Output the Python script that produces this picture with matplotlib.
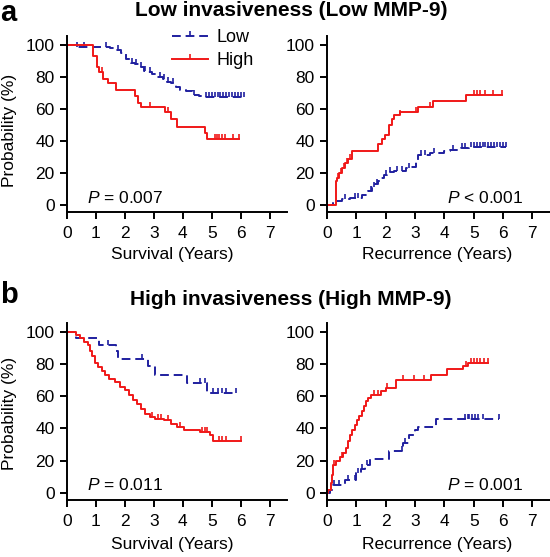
import numpy as np
import matplotlib
matplotlib.use("Agg")
import matplotlib.pyplot as plt
from matplotlib.lines import Line2D

FONT = ['Liberation Sans', 'DejaVu Sans']
FS = 12.5
plt.rcParams['font.family'] = FONT
plt.rcParams['mathtext.fontset'] = 'custom'
plt.rcParams['mathtext.rm'] = 'Liberation Sans'
plt.rcParams['mathtext.it'] = 'Liberation Sans:italic'

RED = '#f01818'
BLUE = '#1f1f9f'

# ---------------- data ----------------
# Panel a, survival
a_surv_low_t = [0.3, 1.5, 1.65, 1.85, 2.05, 2.2, 2.35, 2.5, 2.65, 2.8, 2.95, 3.1, 3.3, 3.45, 3.6, 3.75, 3.9, 4.1, 4.35, 4.55, 4.7]
a_surv_low_v = [99, 98, 97, 95, 91, 89, 88, 86, 84, 83, 82, 80, 79, 77, 76, 74, 72, 71, 69, 68, 67.5]
a_surv_low_c = [0.35, 0.6, 1.35, 1.75, 2.25, 2.4, 2.55, 2.7, 2.85, 3.2, 3.35, 3.5, 3.65, 4.4, 4.8, 4.9, 5.0, 5.1,
                5.2, 5.3, 5.4, 5.5, 5.6, 5.7, 5.8, 5.9, 6.0, 6.1]
a_surv_high_t = [0.9, 1.02, 1.1, 1.25, 1.4, 1.7, 2.35, 2.45, 2.55, 3.4, 3.6, 3.8, 4.75, 4.85]
a_surv_high_v = [93, 86, 83, 79, 76, 72, 68, 64, 61, 58, 54, 49, 45, 41]
a_surv_high_c = [1.2, 2.85, 3.5, 5.1, 5.17, 5.25, 5.35, 5.45, 5.75, 5.95]

# Panel a, recurrence
a_rec_low_t = [0.22, 0.5, 0.8, 1.2, 1.4, 1.55, 1.65, 1.75, 1.85, 1.95, 2.05, 2.3, 2.7, 2.85, 3.05, 3.1, 3.5, 4.0, 4.2, 4.55, 4.85]
a_rec_low_v = [2.5, 3.5, 4.5, 6, 9, 11, 13, 15, 17, 19, 20.5, 21.5, 23, 24, 28, 31, 32.5, 33.5, 34.5, 35.5, 36.5]
a_rec_low_c = [0.6, 0.95, 1.05, 1.5, 1.6, 1.7, 2.0, 2.15, 2.4, 2.55, 2.8, 3.2, 3.35, 3.65, 4.3, 4.6, 4.7, 4.9,
               5.0, 5.1, 5.2, 5.3, 5.4, 5.5, 5.6, 5.7, 5.8, 5.9, 6.0, 6.1]
a_rec_high_t = [0.3, 0.35, 0.42, 0.52, 0.62, 0.72, 0.84, 1.75, 1.87, 1.97, 2.13, 2.22, 2.27, 2.5, 3.1, 3.6, 4.75]
a_rec_high_v = [15, 17, 20, 23, 26, 29, 34, 38, 41, 44, 50, 54, 56, 58, 61, 65, 69]
a_rec_high_c = [0.38, 0.47, 0.57, 0.67, 0.77, 2.48, 3.05, 3.5, 5.0, 5.1, 5.2, 5.4, 5.65, 5.95]

# Panel b, survival
b_surv_low_t = [0.3, 1.1, 1.7, 1.75, 2.8, 3.05, 4.15, 4.85]
b_surv_low_v = [96, 92, 88, 83, 79, 73, 68, 62]
b_surv_low_c = [1.4, 2.6, 4.6, 4.75, 5.05, 5.2, 5.35, 5.5, 5.85]
b_surv_high_t = [0.3, 0.45, 0.6, 0.72, 0.8, 0.88, 0.97, 1.08, 1.2, 1.3, 1.45, 1.65, 1.82, 2.0, 2.15, 2.28,
                 2.42, 2.55, 2.7, 2.85, 3.05, 3.35, 3.6, 3.8, 4.05, 4.6, 4.95, 5.05]
b_surv_high_v = [98, 96, 94, 92, 88, 85, 81, 78, 76, 73, 71, 69, 66, 64, 61, 58,
                 55, 52, 49, 47, 46, 45, 43, 41, 39, 38, 36, 32]
b_surv_high_c = [2.95, 3.15, 3.25, 3.5, 3.9, 4.65, 4.75, 4.85, 5.25, 5.35, 5.5, 6.0]

# Panel b, recurrence
b_rec_low_t = [0.1, 0.2, 0.6, 1.0, 1.15, 1.3, 1.45, 2.1, 2.6, 2.8, 3.0, 3.1, 3.7]
b_rec_low_v = [2, 5, 8, 12, 15, 17, 21, 26, 31, 36, 39, 41, 46]
b_rec_low_c = [0.25, 0.4, 0.7, 0.95, 1.05, 1.2, 1.35, 2.55, 2.65, 4.7, 4.8, 4.85, 4.95, 5.05, 5.15, 5.3, 5.85]
b_rec_high_t = [0.05, 0.12, 0.17, 0.22, 0.3, 0.45, 0.55, 0.65, 0.72, 0.78, 0.86, 0.95, 1.03, 1.1, 1.18, 1.25,
                1.32, 1.4, 1.5, 1.85, 2.0, 2.35, 3.55, 4.1, 4.65, 4.8]
b_rec_high_v = [2, 6, 11, 17, 20, 22, 25, 28, 32, 36, 39, 42, 45, 48, 51, 54,
                57, 59, 61, 63, 65, 70, 73, 77, 79, 81]
b_rec_high_c = [0.25, 0.5, 1.6, 1.75, 2.05, 2.6, 2.95, 3.3, 4.75, 4.9, 5.0, 5.1, 5.2, 5.35, 5.5]

x_ticks = [0, 1, 2, 3, 4, 5, 6, 7]
y_ticks = [0, 20, 40, 60, 80, 100]
titles = ["Low invasiveness (Low MMP-9)", "High invasiveness (High MMP-9)"]
panel_letters = ["a", "b"]
p_texts = [["= 0.007", "< 0.001"], ["= 0.011", "= 0.001"]]
x_labels = ["Survival (Years)", "Recurrence (Years)"]
y_label = "Probability (%)"
legend_labels = ["Low", "High"]

# ---------------- figure ----------------
W, H = 550, 557
fig = plt.figure(figsize=(W / 100, H / 100), dpi=100)

def fx(px):
    return px / W

def fy(py):
    return 1 - py / H

UPTICK = [(0, 0), (0, 1)]

def km(ax, t, v, c, start, color, dashed):
    end = max(c + t)
    xs = [0] + list(t) + [end]
    ys = [start] + list(v) + [v[-1]]
    kw = dict(color=color, lw=1.4)
    if dashed:
        kw['dashes'] = (4.5, 2.5)
    ax.step(xs, ys, where='post', **kw)
    tt = np.array(xs)
    cy = [ys[np.searchsorted(tt, ci, side='right') - 1] for ci in c]
    ax.plot(c, cy, ls='none', marker=UPTICK, ms=7, mew=1.2, color=color)

rows = [dict(xaxis=212, top=36, ymin=-4.4, ymax=105.6),
        dict(xaxis=500, top=323, ymin=-4.5, ymax=105.6)]
cols = [dict(left=67, width=220), dict(left=327, width=223)]

data = [
    [(a_surv_low_t, a_surv_low_v, a_surv_low_c, a_surv_high_t, a_surv_high_v, a_surv_high_c, 100),
     (a_rec_low_t, a_rec_low_v, a_rec_low_c, a_rec_high_t, a_rec_high_v, a_rec_high_c, 0)],
    [(b_surv_low_t, b_surv_low_v, b_surv_low_c, b_surv_high_t, b_surv_high_v, b_surv_high_c, 100),
     (b_rec_low_t, b_rec_low_v, b_rec_low_c, b_rec_high_t, b_rec_high_v, b_rec_high_c, 0)],
]

axes = []
for r, row in enumerate(rows):
    for ci, col in enumerate(cols):
        ax = fig.add_axes([fx(col['left']), fy(row['xaxis']), col['width'] / W,
                           (row['xaxis'] - row['top']) / H])
        lt, lv, lc, ht, hv, hc, start = data[r][ci]
        km(ax, lt, lv, lc, start, BLUE, True)
        km(ax, ht, hv, hc, start, RED, False)
        ax.set_xlim(0, 7.6)
        ax.set_ylim(row['ymin'], row['ymax'])
        ax.set_xticks(x_ticks)
        ax.set_yticks(y_ticks)
        for s in ['top', 'right']:
            ax.spines[s].set_visible(False)
        for s in ['left', 'bottom']:
            ax.spines[s].set_linewidth(1.4)
        ax.tick_params(axis='both', direction='out', length=5, width=1.4, labelsize=FS)
        ax.tick_params(axis='y', pad=4)
        ax.tick_params(axis='x', pad=5)
        ax.patch.set_alpha(0)
        axes.append(ax)

title_base = [16, 305]
letter_base = [21, 303]
xlabel_y = [255, 545]
ylabel_y = [130, 413]
p_y = [198, 485]
for r in range(2):
    fig.text(fx(291), fy(title_base[r]), titles[r], ha='center', va='baseline',
             fontsize=15, fontweight='bold')
    fig.text(fx(0), fy(letter_base[r]), panel_letters[r], ha='left', va='baseline',
             fontsize=21, fontweight='bold')
    fig.text(fx(10), fy(ylabel_y[r]), y_label, rotation=90, ha='center', va='center', fontsize=FS)
    fig.text(fx(172), fy(xlabel_y[r]), x_labels[0], ha='center', va='center', fontsize=FS)
    fig.text(fx(437), fy(xlabel_y[r]), x_labels[1], ha='center', va='center', fontsize=FS)
    fig.text(fx(87), fy(p_y[r]), r"$\it{P}$ " + p_texts[r][0], ha='left', va='center', fontsize=FS)
    fig.text(fx(523), fy(p_y[r]), r"$\it{P}$ " + p_texts[r][1], ha='right', va='center', fontsize=FS)

handles = [Line2D([], [], color=BLUE, lw=1.4, dashes=(4.5, 2.5), marker=UPTICK, ms=7, mew=1.2),
           Line2D([], [], color=RED, lw=1.4, marker=UPTICK, ms=7, mew=1.2)]
axes[0].legend(handles, legend_labels, loc='upper left', bbox_to_anchor=(fx(172), fy(29)),
               bbox_transform=fig.transFigure, frameon=False, fontsize=FS + 0.5, numpoints=1,
               handlelength=2.0, handletextpad=0.45, labelspacing=0.33, borderpad=0,
               borderaxespad=0)

fig.savefig("out.png", dpi=100)
